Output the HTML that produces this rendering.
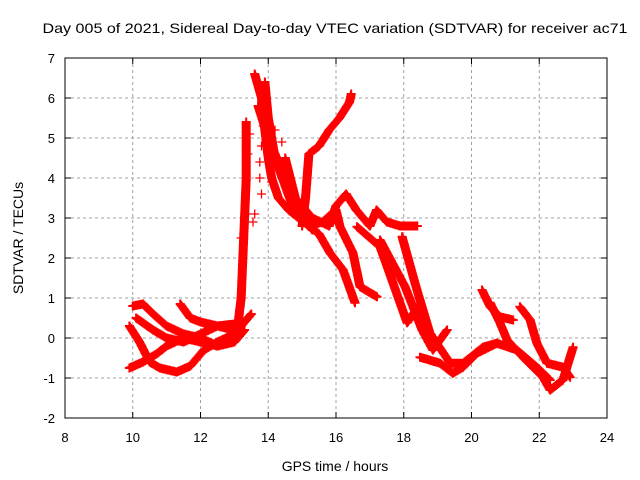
<!DOCTYPE html>
<html><head><meta charset="utf-8"><style>body{margin:0;background:#fff}svg{display:block}text{font-family:"Liberation Sans",sans-serif;fill:#000}</style></head>
<body>
<svg id="chart" width="640" height="480" viewBox="0 0 640 480" xmlns="http://www.w3.org/2000/svg">
<rect x="0" y="0" width="640" height="480" fill="#fff"/>
<g id="grid"></g>
<g id="marks"></g>
<g id="axes"></g>
<text x="335" y="33" font-size="14" text-anchor="middle" textLength="585" lengthAdjust="spacingAndGlyphs">Day 005 of 2021, Sidereal Day-to-day VTEC variation (SDTVAR) for receiver ac71</text>
<text x="335" y="471" font-size="14" text-anchor="middle">GPS time / hours</text>
<text x="23" y="238" font-size="14" text-anchor="middle" transform="rotate(-90 23 238)">SDTVAR / TECUs</text>
</svg>
<script>
const xTicks = [8,10,12,14,16,18,20,22,24];
const yTicks = [-2,-1,0,1,2,3,4,5,6,7];
const track1 = [[9.9,-0.75],[10.3,-0.6],[10.7,-0.4],[11.0,-0.2],[11.5,0.0],[12.0,-0.1],[12.5,-0.2],[12.9,0.0],[13.1,0.3],[13.2,1.0],[13.25,2.0],[13.3,3.0],[13.35,4.0],[13.35,5.4]];
const track2 = [[9.9,0.3],[10.2,-0.1],[10.5,-0.6],[10.8,-0.75],[11.3,-0.85],[11.7,-0.7],[12.1,-0.3],[12.5,-0.1],[13.0,0.1],[13.3,0.4],[13.5,0.6]];
const track3 = [[10.0,0.8],[10.3,0.85],[10.6,0.6],[11.0,0.3],[11.5,0.1],[12.0,0.0],[12.5,-0.2],[13.0,-0.1],[13.3,0.2]];
const track4 = [[11.4,0.85],[11.7,0.5],[12.0,0.4],[12.5,0.3],[13.0,0.2]];
const track5 = [[10.1,0.5],[10.6,0.2],[11.0,0.0],[11.5,-0.1],[12.0,0.1],[12.5,0.3],[13.0,0.35]];
const track6 = [[13.6,6.6],[13.8,6.0],[13.9,5.2],[14.0,4.5],[14.1,4.0],[14.3,3.5],[14.6,3.2],[14.9,3.0],[15.2,2.8],[15.5,2.6],[15.82,2.13],[16.21,1.7],[16.56,0.88]];
const track7 = [[13.9,6.4],[14.0,5.5],[14.2,4.5],[14.5,3.8],[14.8,3.1],[15.2,2.8],[15.6,2.9],[16.0,3.2],[16.12,2.78],[16.5,2.13],[16.71,1.28],[17.21,1.03]];
const track8 = [[14.5,4.5],[14.8,3.5],[15.3,3.0],[15.8,2.8],[16.0,3.3],[16.3,3.6],[16.6,3.2],[17.0,2.8],[17.2,3.2],[17.5,2.9],[17.9,2.8],[18.4,2.8]];
const track9 = [[15.0,2.8],[15.1,3.5],[15.2,4.6],[15.5,4.8],[15.8,5.2],[16.1,5.5],[16.4,5.9],[16.45,6.1]];
const track10 = [[13.7,5.8],[14.0,5.0],[14.3,4.4],[14.6,4.0],[14.9,3.2],[15.3,2.7]];
const track11 = [[16.62,2.78],[17.3,2.28],[18.1,0.38],[18.42,0.78]];
const track12 = [[17.3,2.45],[18.04,1.28],[18.54,0.2],[18.86,-0.3],[19.28,0.2]];
const track13 = [[17.95,2.53],[18.39,1.2],[18.77,0.13],[19.37,-0.63],[19.75,-0.63],[20.34,-0.23],[20.75,-0.13],[21.34,-0.3],[21.93,-0.73],[22.32,-1.05]];
const track14 = [[18.48,-0.48],[19.07,-0.63],[19.45,-0.88],[19.75,-0.73],[20.16,-0.38],[20.75,-0.13]];
const track15 = [[20.31,1.2],[20.55,0.78],[20.84,0.53],[21.23,0.45]];
const track16 = [[20.55,0.88],[20.84,0.38],[21.05,-0.05],[21.52,-0.48],[22.11,-0.98],[22.32,-1.3],[22.7,-1.05],[23.0,-0.23]];
const track17 = [[21.43,0.78],[21.73,0.45],[21.93,-0.13],[22.23,-0.63],[22.7,-0.73],[22.91,-0.98]];
const scatter = [[13.35,2.9],[13.4,3.1],[13.55,2.9],[13.6,3.1],[13.75,4.0],[13.8,3.6],[13.2,2.5],[13.4,4.6],[13.45,5.1],[13.8,4.8],[13.85,5.3],[13.75,4.4],[14.1,3.9],[14.2,5.2],[14.4,4.9]];
const tracks = [track1,track2,track3,track4,track5,track6,track7,track8,track9,track10,track11,track12,track13,track14,track15,track16,track17];

const X0=65,X1=607,Y0=418,Y1=58;
function xs(h){return X0+(h-8)/16*(X1-X0);}
function ys(v){return Y0-(v+2)/9*(Y0-Y1);}
const NS="http://www.w3.org/2000/svg";
const grid=document.getElementById('grid'), axes=document.getElementById('axes'), marks=document.getElementById('marks');
function mk(tag,attrs,parent){const e=document.createElementNS(NS,tag);for(const k in attrs)e.setAttribute(k,attrs[k]);parent.appendChild(e);return e;}
xTicks.forEach(t=>{
  const x=xs(t);
  if(t>8&&t<24){const g=mk('line',{x1:x,x2:x,y1:Y1,y2:Y0,stroke:'#a0a0a0','stroke-dasharray':'3,3'},grid);
  
  }
  const a=mk('path',{d:`M${x} ${Y0}v-6M${x} ${Y1}v6`,stroke:'#000'},axes);
  
  
  const l=mk('text',{x:x,y:Y0+24,'font-size':13,'text-anchor':'middle'},axes);
  l.textContent=t;
  
  
});
yTicks.forEach(t=>{
  const y=ys(t);
  if(t>-2&&t<7){const g=mk('line',{x1:X0,x2:X1,y1:y,y2:y,stroke:'#a0a0a0','stroke-dasharray':'3,3'},grid);
  
  }
  const a=mk('path',{d:`M${X0} ${y}h6M${X1} ${y}h-6`,stroke:'#000'},axes);
  
  
  const l=mk('text',{x:X0-10,y:y+5,'font-size':13,'text-anchor':'end'},axes);
  l.textContent=t;
  
  
});
const fr=mk('rect',{x:X0,y:Y1,width:X1-X0,height:Y0-Y1,fill:'none',stroke:'#000'},axes);


function plus(x,y){return `M${(x-4.5).toFixed(1)} ${y.toFixed(1)}h9M${x.toFixed(1)} ${(y-4.5).toFixed(1)}v9`;}
tracks.forEach((tr,i)=>{
  let d='';
  for(let k=0;k<tr.length;k++){
    const x=xs(tr[k][0]),y=ys(tr[k][1]);
    d+=plus(x,y);
    if(k<tr.length-1){
      const x2=xs(tr[k+1][0]),y2=ys(tr[k+1][1]);
      const n=Math.max(1,Math.round(Math.hypot(x2-x,y2-y)/1.5));
      for(let j=1;j<n;j++){d+=plus(x+(x2-x)*j/n,y+(y2-y)*j/n);}
    }
  }
  const p=mk('path',{d:d,stroke:'#ff0000','stroke-width':2,fill:'none'},marks);
  
  
});
let sd='';
scatter.forEach(pt=>{sd+=plus(xs(pt[0]),ys(pt[1]));});
const sp=mk('path',{d:sd,stroke:'#ff0000','stroke-width':1.3,fill:'none'},marks);


</script>
</body></html>
